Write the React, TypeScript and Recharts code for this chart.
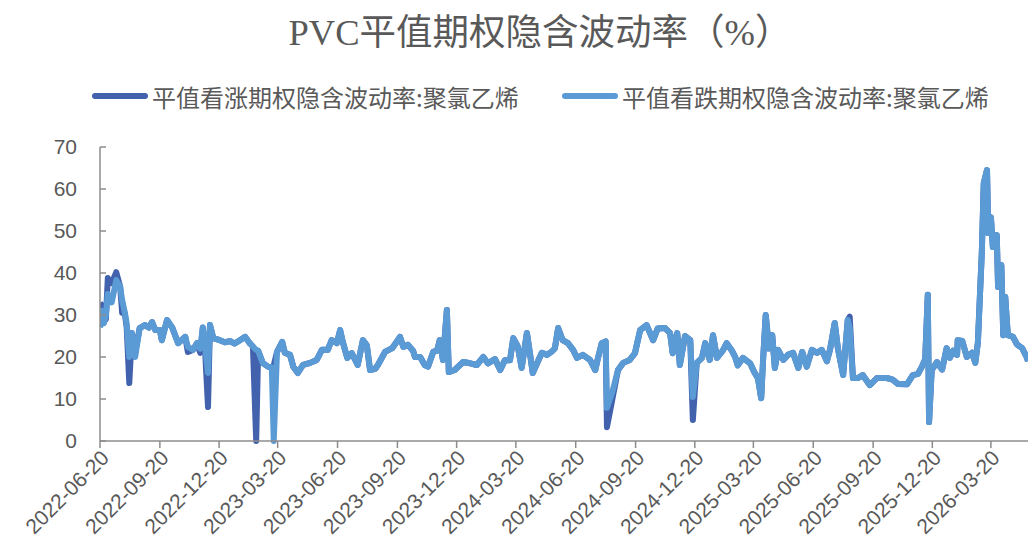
import React from "react";
import { LineChart, Line, XAxis, YAxis } from "recharts";

// 日期（两条序列共用）
const dates: string[] = [
  "2022-06-20", "2022-06-23", "2022-06-26", "2022-06-29", "2022-07-02", "2022-07-08", "2022-07-15", "2022-07-21", "2022-07-24", "2022-07-28",
  "2022-07-31", "2022-08-04", "2022-08-08", "2022-08-13", "2022-08-20", "2022-08-28", "2022-09-03", "2022-09-08", "2022-09-13", "2022-09-20",
  "2022-09-23", "2022-10-01", "2022-10-09", "2022-10-18", "2022-10-29", "2022-11-02", "2022-11-10", "2022-11-16", "2022-11-21", "2022-11-25",
  "2022-11-28", "2022-12-03", "2022-12-06", "2022-12-11", "2022-12-21", "2022-12-29", "2023-01-06", "2023-01-13", "2023-01-21", "2023-01-29",
  "2023-02-05", "2023-02-10", "2023-02-15", "2023-02-18", "2023-02-25", "2023-03-05", "2023-03-11", "2023-03-14", "2023-03-19", "2023-03-27",
  "2023-03-31", "2023-04-08", "2023-04-13", "2023-04-20", "2023-04-28", "2023-05-09", "2023-05-19", "2023-05-27", "2023-06-05", "2023-06-11",
  "2023-06-19", "2023-06-24", "2023-06-28", "2023-07-05", "2023-07-12", "2023-07-21", "2023-07-29", "2023-08-04", "2023-08-09", "2023-08-17",
  "2023-08-21", "2023-09-01", "2023-09-12", "2023-09-24", "2023-09-29", "2023-10-06", "2023-10-14", "2023-10-17", "2023-10-25", "2023-11-01",
  "2023-11-06", "2023-11-14", "2023-11-20", "2023-11-24", "2023-11-29", "2023-12-05", "2023-12-08", "2023-12-17", "2023-12-30", "2024-01-10",
  "2024-01-20", "2024-01-30", "2024-02-06", "2024-02-17", "2024-02-25", "2024-03-03", "2024-03-11", "2024-03-16", "2024-03-23", "2024-03-29",
  "2024-04-06", "2024-04-11", "2024-04-15", "2024-04-23", "2024-04-29", "2024-05-07", "2024-05-15", "2024-05-19", "2024-05-24", "2024-05-31",
  "2024-06-08", "2024-06-16", "2024-06-22", "2024-07-01", "2024-07-12", "2024-07-20", "2024-07-24", "2024-07-30", "2024-08-05", "2024-08-07",
  "2024-08-16", "2024-08-24", "2024-09-01", "2024-09-11", "2024-09-19", "2024-09-27", "2024-10-07", "2024-10-17", "2024-10-24", "2024-11-04",
  "2024-11-12", "2024-11-16", "2024-11-23", "2024-11-27", "2024-12-05", "2024-12-13", "2024-12-17", "2024-12-23", "2024-12-31", "2025-01-05",
  "2025-01-12", "2025-01-17", "2025-01-23", "2025-02-01", "2025-02-07", "2025-02-15", "2025-02-20", "2025-02-24", "2025-03-04", "2025-03-15",
  "2025-03-22", "2025-03-27", "2025-04-01", "2025-04-04", "2025-04-08", "2025-04-13", "2025-04-18", "2025-04-22", "2025-04-27", "2025-05-05",
  "2025-05-12", "2025-05-20", "2025-05-28", "2025-06-03", "2025-06-10", "2025-06-18", "2025-06-26", "2025-07-03", "2025-07-11", "2025-07-16",
  "2025-07-23", "2025-07-28", "2025-08-05", "2025-08-12", "2025-08-15", "2025-08-20", "2025-08-28", "2025-09-04", "2025-09-15", "2025-09-26",
  "2025-10-11", "2025-10-20", "2025-10-28", "2025-11-11", "2025-11-20", "2025-11-28", "2025-12-04", "2025-12-09", "2025-12-13", "2025-12-15",
  "2025-12-19", "2025-12-27", "2026-01-04", "2026-01-11", "2026-01-16", "2026-01-21", "2026-01-27", "2026-01-28", "2026-02-04", "2026-02-11",
  "2026-02-19", "2026-02-24", "2026-02-28", "2026-03-06", "2026-03-09", "2026-03-14", "2026-03-16", "2026-03-20", "2026-03-23", "2026-03-29",
  "2026-03-31", "2026-04-05", "2026-04-08", "2026-04-11", "2026-04-15", "2026-04-23", "2026-04-29", "2026-05-07", "2026-05-14", "2026-05-16",
];

// 平值看涨期权隐含波动率
const callVol: number[] = [
  33, 32, 29, 29, 38.8, 37.6, 40.2, 36.7, 30.5, 30.5,
  27, 13.8, 25.7, 21, 26.9, 27.6, 27, 28.3, 26.4, 26.4,
  24, 28.8, 27, 23.3, 24.8, 21.2, 21.7, 23.3, 21, 27,
  23, 8.1, 27.6, 24.5, 24, 23.5, 23.8, 23.2, 24, 24.8,
  23.3, 22.5, 0, 21.5, 18.6, 17.7, 17.5, 18, 21.2, 23.6,
  21, 20.5, 17.7, 16.2, 18.1, 18.6, 19.3, 21.7, 21.7, 24,
  23.3, 26.4, 23.6, 19.8, 20.9, 18.1, 24, 22.8, 16.9, 17.2,
  18.1, 21.2, 22.1, 24.8, 22.4, 22.9, 21.5, 20, 20, 18.1,
  17.7, 21.2, 21.5, 24, 19.3, 31.2, 16.4, 16.9, 18.8, 18.5,
  18.1, 20, 18.5, 19.5, 16.9, 19.2, 19.2, 24.5, 22.5, 17.4,
  25.7, 20.5, 16.2, 19, 21, 20.5, 21.4, 22.1, 26.9, 24,
  23.3, 21.7, 19.8, 20.5, 19.3, 16.9, 19.6, 23.3, 23.7, 3.3,
  10.5, 16.9, 18.6, 19.3, 20.9, 26.4, 27.6, 24, 26.8, 26.9,
  25.7, 20.9, 25.7, 18.1, 25, 24, 5, 18.6, 19.8, 23.3,
  19.3, 25.2, 19.8, 21.5, 23.3, 21.5, 20, 18, 19.8, 18.5,
  16.2, 15, 10.2, 19.5, 30, 22, 25.2, 17.4, 21.7, 19.3,
  20.5, 21, 17.4, 21.2, 17.7, 21.7, 21, 21.7, 19, 21.9,
  28.1, 21.9, 15.7, 28.8, 29.6, 15, 15, 15.7, 13.3, 15,
  15, 14.6, 13.6, 13.5, 15.7, 16, 17.7, 19.5, 34.8, 4.5,
  16.9, 18.8, 17, 22.1, 19.8, 21.5, 20.5, 24, 23.8, 20,
  21, 18.6, 23.5, 44.8, 61.4, 64.5, 49.5, 53.3, 46.2, 49,
  36.7, 41.9, 25.2, 34.3, 25.2, 24.8, 23, 22.1, 20, 19,
];

// 平值看跌期权隐含波动率
const putVol: number[] = [
  27, 31, 28, 30, 35, 33, 38.3, 36.7, 33.6, 30.7,
  28, 20, 25.7, 20, 26.9, 27.6, 27, 28.3, 26.4, 26.4,
  24, 28.8, 27, 23.3, 24.8, 22.4, 21.7, 23.3, 22, 27,
  23, 16.2, 27.6, 24.5, 24, 23.5, 23.8, 23.2, 24, 24.8,
  23.3, 22.5, 21.7, 21.5, 18.6, 17.7, 17.5, 0, 21.2, 23.6,
  21, 20.5, 17.7, 16.2, 18.1, 18.6, 19.3, 21.7, 21.7, 24,
  23.3, 26.4, 23.6, 19.8, 20.9, 18.1, 24, 22.8, 16.9, 17.2,
  18.1, 21.2, 22.1, 24.8, 22.4, 22.9, 21.5, 20, 20, 18.1,
  17.7, 21.2, 21.5, 24, 19.3, 31.2, 16.4, 16.9, 18.8, 18.5,
  18.1, 20, 18.5, 19.5, 16.9, 19.2, 19.2, 24.5, 22.5, 17.4,
  25.7, 20.5, 16.2, 19, 21, 20.5, 21.4, 22.1, 26.9, 24,
  23.3, 21.7, 19.8, 20.5, 19.3, 16.9, 19.6, 23.3, 23.7, 7.9,
  12.1, 16.9, 18.6, 19.3, 20.9, 26.4, 27.6, 24, 26.8, 26.9,
  25.7, 20.9, 25.7, 18.1, 25, 24, 10.5, 18.6, 19.8, 23.3,
  19.3, 25.2, 19.8, 21.5, 23.3, 21.5, 20, 18, 19.8, 18.5,
  16.2, 15, 10.2, 19.5, 30, 22, 25.2, 17.4, 21.7, 19.3,
  20.5, 21, 17.4, 21.2, 17.7, 21.7, 21, 21.7, 19, 21.9,
  28.1, 21.9, 15.7, 28.8, 27, 15, 15, 15.7, 13.3, 15,
  15, 14.6, 13.6, 13.5, 15.7, 16, 17.7, 19.5, 34.8, 4.5,
  16.9, 18.8, 17, 22.1, 19.8, 21.5, 20.5, 24, 23.8, 20,
  21, 18.6, 23.5, 44.8, 61.4, 64.5, 49.5, 53.3, 46.2, 49,
  36.7, 41.9, 25.2, 34.3, 25.2, 24.8, 23, 22.1, 20, 19,
];

const xTickLabels: string[] = [
  "2022-06-20", "2022-09-20", "2022-12-20", "2023-03-20", "2023-06-20", "2023-09-20", "2023-12-20", "2024-03-20",
  "2024-06-20", "2024-09-20", "2024-12-20", "2025-03-20", "2025-06-20", "2025-09-20", "2025-12-20", "2026-03-20",
];
const yTicks: number[] = [0, 10, 20, 30, 40, 50, 60, 70];

const xStart = "2022-06-20";
const xEnd = "2026-05-16";

const CALL_COLOR = "#4362AE";
const PUT_COLOR = "#5B9BD5";
const TEXT_COLOR = "#595959";
const AXIS_COLOR = "#8C8C8C";

const toTs = (d: string) => {
  const [y, m, day] = d.split("-").map(Number);
  return Date.UTC(y, m - 1, day);
};

const fmt = (ts: number) => new Date(ts).toISOString().slice(0, 10);

const data = dates.map((d, i) => ({ t: toTs(d), call: callVol[i], put: putVol[i] }));

const DateTick = (props: any) => {
  const { x, y, payload } = props;
  return (
    <g transform={`translate(${x + 5},${y + 4})`}>
      <text
        textAnchor="end"
        transform="rotate(-45)"
        dy="0.35em"
        fontSize={21}
        fontFamily="'Liberation Sans', Arial, sans-serif"
        fill={TEXT_COLOR}
      >
        {fmt(payload.value)}
      </text>
    </g>
  );
};

const LegendItem = ({ left, color, label }: { left: number; color: string; label: string }) => (
  <div style={{ position: "absolute", left, top: 80, height: 32, display: "flex", alignItems: "center" }}>
    <span style={{ display: "inline-block", width: 56, height: 6, borderRadius: 3, background: color, marginRight: 4 }} />
    <span style={{ fontSize: 24, color: TEXT_COLOR, fontFamily: "'Noto Sans CJK SC', sans-serif", whiteSpace: "nowrap" }}>
      {label}
    </span>
  </div>
);

export default function App() {
  return (
    <div style={{ position: "absolute", left: 0, top: 0, width: 1028, height: 551, background: "#fff", overflow: "hidden" }}>
      <div
        style={{
          position: "absolute",
          left: 40,
          top: 3,
          width: 1000,
          textAlign: "center",
          fontSize: 36.5,
          color: TEXT_COLOR,
          fontFamily: "'Liberation Serif', 'Noto Sans CJK SC', serif",
          whiteSpace: "nowrap",
        }}
      >
        PVC平值期权隐含波动率（%）
      </div>
      <LegendItem left={92} color={CALL_COLOR} label="平值看涨期权隐含波动率:聚氯乙烯" />
      <LegendItem left={562} color={PUT_COLOR} label="平值看跌期权隐含波动率:聚氯乙烯" />
      <LineChart width={1028} height={551} data={data} margin={{ top: 147, right: 0, bottom: 0, left: 0 }}>
        <XAxis
          dataKey="t"
          type="number"
          domain={[toTs(xStart), toTs(xEnd)]}
          ticks={xTickLabels.map(toTs)}
          allowDataOverflow
          height={110}
          tick={<DateTick />}
          interval={0}
          axisLine={{ stroke: AXIS_COLOR, strokeWidth: 1.5 }}
          tickLine={{ stroke: AXIS_COLOR, strokeWidth: 1.5 }}
          tickSize={7}
        />
        <YAxis
          domain={[0, 70]}
          ticks={yTicks}
          width={100}
          interval={0}
          axisLine={{ stroke: AXIS_COLOR, strokeWidth: 1.5 }}
          tickLine={{ stroke: AXIS_COLOR, strokeWidth: 1.5 }}
          tickSize={-6}
          tickMargin={29}
          tick={{ fontSize: 21, fill: TEXT_COLOR, fontFamily: "'Liberation Sans', Arial, sans-serif" }}
        />
        <Line
          dataKey="call"
          type="linear"
          stroke={CALL_COLOR}
          strokeWidth={6}
          dot={false}
          strokeLinejoin="round"
          isAnimationActive={false}
        />
        <Line
          dataKey="put"
          type="linear"
          stroke={PUT_COLOR}
          strokeWidth={6}
          dot={false}
          strokeLinejoin="round"
          isAnimationActive={false}
        />
      </LineChart>
    </div>
  );
}
